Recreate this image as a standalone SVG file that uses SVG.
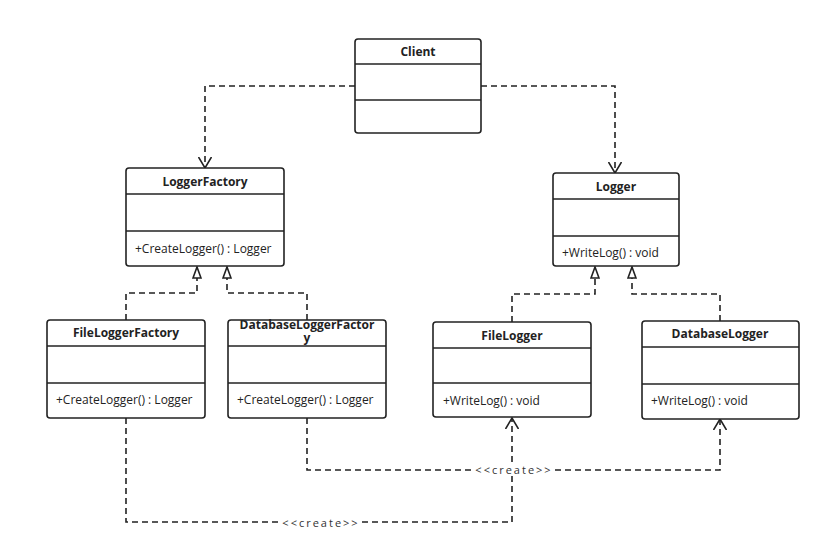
<svg xmlns="http://www.w3.org/2000/svg" width="823" height="542" viewBox="0 0 823 542">
  <style>
    .box { fill: #fff; stroke: #222; stroke-width: 1.6; }
    .div { stroke: #222; stroke-width: 1.4; }
    .title { font-family: "Open Sans", "Noto Sans", sans-serif; font-size: 12px; font-weight: bold; fill: #222; text-anchor: middle; }
    .member { font-family: "Open Sans", "Noto Sans", sans-serif; font-size: 12px; fill: #222; }
    .edge { fill: none; stroke: #222; stroke-width: 1.6; stroke-dasharray: 6 4; }
    .lbl { font-family: "Open Sans", "Noto Sans", sans-serif; font-size: 11px; fill: #333; text-anchor: middle; letter-spacing: 2px; }
  </style>
  <defs>
    <marker id="open" viewBox="0 0 12 14" refX="11" refY="7" markerWidth="12" markerHeight="14" markerUnits="userSpaceOnUse" orient="auto">
      <path d="M0,0.5 L11,7 L0,13.5" fill="none" stroke="#222" stroke-width="1.6"/>
    </marker>
    <marker id="tri" viewBox="0 0 13 10" refX="12" refY="5" markerWidth="13" markerHeight="10" markerUnits="userSpaceOnUse" orient="auto">
      <path d="M1,1 L12,5 L1,9 Z" fill="#fff" stroke="#222" stroke-width="1.6"/>
    </marker>
  </defs>

  <rect width="823" height="542" fill="#fff"/>

  <g id="connectors">
    <!-- Client dependencies -->
    <path class="edge" d="M355,86 H205 V168" marker-end="url(#open)"/>
    <path class="edge" d="M481,86 H615 V173" marker-end="url(#open)"/>
    <!-- realizations of LoggerFactory -->
    <path class="edge" d="M126,320 V293 H197 V267" marker-end="url(#tri)"/>
    <path class="edge" d="M307,320 V293 H227 V267" marker-end="url(#tri)"/>
    <!-- realizations of Logger -->
    <path class="edge" d="M512,322 V294 H595 V267" marker-end="url(#tri)"/>
    <path class="edge" d="M720,321 V294 H632 V267" marker-end="url(#tri)"/>
    <!-- create dependencies -->
    <path class="edge" d="M126,418 V522 H512 V418" marker-end="url(#open)"/>
    <path class="edge" d="M307,418 V470 H720 V419" marker-end="url(#open)"/>
    <rect x="474" y="463" width="78" height="13" fill="#fff"/>
    <text class="lbl" x="514" y="474">&lt;&lt;create&gt;&gt;</text>
    <rect x="281" y="515" width="78" height="13" fill="#fff"/>
    <text class="lbl" x="321" y="527">&lt;&lt;create&gt;&gt;</text>
  </g>

  <g id="client">
    <rect class="box" x="355" y="39" width="126" height="94" rx="3"/>
    <line class="div" x1="355" y1="64" x2="481" y2="64"/>
    <line class="div" x1="355" y1="100" x2="481" y2="100"/>
    <text class="title" x="418" y="56">Client</text>
  </g>

  <g id="loggerFactory">
    <rect class="box" x="126" y="168" width="158" height="98" rx="3"/>
    <line class="div" x1="126" y1="194" x2="284" y2="194"/>
    <line class="div" x1="126" y1="231" x2="284" y2="231"/>
    <text class="title" x="205" y="186">LoggerFactory</text>
    <text class="member" x="135" y="253">+CreateLogger() : Logger</text>
  </g>

  <g id="logger">
    <rect class="box" x="553" y="173" width="126" height="93" rx="3"/>
    <line class="div" x1="553" y1="199" x2="679" y2="199"/>
    <line class="div" x1="553" y1="236" x2="679" y2="236"/>
    <text class="title" x="616" y="191">Logger</text>
    <text class="member" x="562" y="257">+WriteLog() : void</text>
  </g>

  <g id="fileLoggerFactory">
    <rect class="box" x="47" y="320" width="158" height="98" rx="3"/>
    <line class="div" x1="47" y1="346" x2="205" y2="346"/>
    <line class="div" x1="47" y1="383" x2="205" y2="383"/>
    <text class="title" x="126" y="337">FileLoggerFactory</text>
    <text class="member" x="56" y="404">+CreateLogger() : Logger</text>
  </g>

  <g id="databaseLoggerFactory">
    <rect class="box" x="228" y="320" width="158" height="98" rx="3"/>
    <line class="div" x1="228" y1="346" x2="386" y2="346"/>
    <line class="div" x1="228" y1="383" x2="386" y2="383"/>
    <text class="title" x="307" y="329"><tspan x="307">DatabaseLoggerFactor</tspan><tspan x="307" dy="13">y</tspan></text>
    <text class="member" x="237" y="404">+CreateLogger() : Logger</text>
  </g>

  <g id="fileLogger">
    <rect class="box" x="433" y="322" width="158" height="95" rx="3"/>
    <line class="div" x1="433" y1="348" x2="591" y2="348"/>
    <line class="div" x1="433" y1="383" x2="591" y2="383"/>
    <text class="title" x="512" y="340">FileLogger</text>
    <text class="member" x="443" y="405">+WriteLog() : void</text>
  </g>

  <g id="databaseLogger">
    <rect class="box" x="642" y="321" width="157" height="98" rx="3"/>
    <line class="div" x1="642" y1="347" x2="799" y2="347"/>
    <line class="div" x1="642" y1="384" x2="799" y2="384"/>
    <text class="title" x="720" y="338">DatabaseLogger</text>
    <text class="member" x="651" y="405">+WriteLog() : void</text>
  </g>
</svg>
